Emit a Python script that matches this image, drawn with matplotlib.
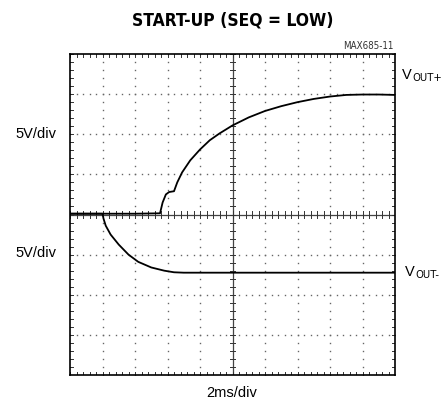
import matplotlib
matplotlib.use("Agg")
import matplotlib.pyplot as plt
import numpy as np

# ---- data (in screen divisions: x 0..10, y 0..8) ----
vpos_t = [0.0, 1.0, 2.0, 2.77, 2.85, 2.95, 3.05, 3.2, 3.3, 3.45, 3.7, 4.0, 4.3, 4.6, 5.0,
          5.5, 6.0, 6.5, 7.0, 7.5, 8.0, 8.5, 9.0, 9.5, 10.0]
vpos_v = [4.02, 4.02, 4.02, 4.03, 4.3, 4.5, 4.56, 4.58, 4.8, 5.05, 5.35, 5.62, 5.85, 6.02, 6.22,
          6.42, 6.58, 6.7, 6.8, 6.88, 6.94, 6.98, 6.99, 6.99, 6.98]
vneg_t = [0.0, 0.5, 1.0, 1.03, 1.1, 1.25, 1.5, 1.8, 2.1, 2.5, 2.9, 3.2, 3.5, 4.0, 5.0,
          6.0, 7.0, 8.0, 9.0, 10.0]
vneg_v = [4.02, 4.02, 4.02, 3.9, 3.72, 3.5, 3.25, 3.0, 2.82, 2.68, 2.6, 2.56, 2.55, 2.55, 2.55,
          2.55, 2.55, 2.55, 2.55, 2.55]
n_xdiv = 10
n_ydiv = 8

plt.rcParams['font.family'] = ['Liberation Sans', 'DejaVu Sans']

fig = plt.figure(figsize=(4.43, 4.08), dpi=100)
ax = fig.add_axes([70/443, 1-375/408, 325/443, 321/408])
ax.set_xlim(0, n_xdiv)
ax.set_ylim(0, n_ydiv)
ax.set_xticks([]); ax.set_yticks([])
for s in ax.spines.values():
    s.set_linewidth(1.2)

# dotted grid
minor_x = np.arange(0, n_xdiv + 0.001, 0.2)
minor_y = np.arange(0, n_ydiv + 0.001, 0.2)
for gx in range(1, n_xdiv):
    if gx == 5:
        continue
    ax.plot([gx]*len(minor_y), minor_y, ls='none', marker='s', ms=1.0, mew=0, color='#666666')
for gy in range(1, n_ydiv):
    if gy == 4:
        continue
    ax.plot(minor_x, [gy]*len(minor_x), ls='none', marker='s', ms=1.0, mew=0, color='#666666')

# center cross
ax.axvline(5, color='#444444', lw=0.9)
ax.axhline(4, color='#444444', lw=0.9)
tx = 0.08
ty = 0.08
for x in minor_x:
    ax.plot([x, x], [4 - ty, 4 + ty], color='#333333', lw=0.7)
    ax.plot([x, x], [0, ty], color='#333333', lw=0.7)
    ax.plot([x, x], [n_ydiv - ty, n_ydiv], color='#333333', lw=0.7)
for y in minor_y:
    ax.plot([5 - tx, 5 + tx], [y, y], color='#333333', lw=0.7)
    ax.plot([0, tx], [y, y], color='#333333', lw=0.7)
    ax.plot([n_xdiv - tx, n_xdiv], [y, y], color='#333333', lw=0.7)

# traces
ax.plot(vpos_t, vpos_v, color='black', lw=1.3)
ax.plot(vneg_t, vneg_v, color='black', lw=1.3)

# texts
fig.text(233/443, 1-20/408, 'START-UP (SEQ = LOW)', ha='center', va='center',
         fontsize=12.5, fontweight='bold', family='DejaVu Sans', fontstretch='condensed')
fig.text(393/443, 1-46/408, 'MAX685-11', ha='right', va='center', fontsize=7,
         color='#333333', family='DejaVu Sans', fontstretch='condensed')
fig.text(36/443, 1-134/408, '5V/div', ha='center', va='center', fontsize=10.5)
fig.text(36/443, 1-253/408, '5V/div', ha='center', va='center', fontsize=10.5)
fig.text(232/443, 1-393/408, '2ms/div', ha='center', va='center', fontsize=10.5)
# V_OUT labels
for (vx, vy, sub) in [(402, 75, 'OUT+'), (405, 272, 'OUT-')]:
    fig.text(vx/443, 1-vy/408, 'V', ha='left', va='center', fontsize=10.5)
    fig.text((vx + 10)/443, 1-(vy + 3)/408, sub, ha='left', va='center', fontsize=8,
             family='DejaVu Sans', fontstretch='condensed')

fig.savefig('out.png', dpi=100)
